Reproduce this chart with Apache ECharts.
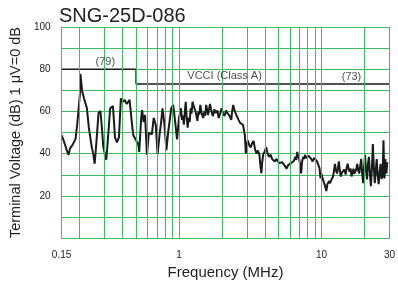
<!DOCTYPE html>
<html>
<head>
<meta charset="utf-8">
<script src="https://cdn.jsdelivr.net/npm/echarts@6/dist/echarts.min.js"></script>
<style>
  html, body { margin: 0; padding: 0; background: #fff; }
  #chart { width: 398px; height: 285px; }
</style>
</head>
<body>
<div id="chart"></div>
<script>
// measured trace (MHz / dB)
var freqs = [
    0.150, 0.154, 0.159, 0.163, 0.1677, 0.172, 0.1786, 0.184, 0.188, 0.193,
    0.198, 0.2023, 0.2032, 0.206, 0.2088, 0.2155, 0.2259, 0.233, 0.2443, 0.250,
    0.256, 0.263, 0.2725, 0.281, 0.288, 0.2945, 0.309, 0.318, 0.329, 0.344,
    0.3557, 0.367, 0.379, 0.391, 0.403, 0.416, 0.4295, 0.45, 0.4645, 0.4715,
    0.479, 0.494, 0.518, 0.526, 0.543, 0.551, 0.565, 0.578, 0.596, 0.615,
    0.645, 0.665, 0.687, 0.708, 0.731, 0.75, 0.766, 0.791, 0.816, 0.842,
    0.862, 0.882, 0.910, 0.939, 0.969, 0.985,
    1.0, 1.016, 1.032, 1.05, 1.066, 1.082, 1.10, 1.116, 1.13, 1.151,
    1.17, 1.19, 1.207, 1.225, 1.245, 1.275, 1.305, 1.325, 1.346, 1.37,
    1.39, 1.411, 1.445, 1.479, 1.51, 1.53, 1.551, 1.575, 1.600, 1.625,
    1.651, 1.69, 1.730, 1.77, 1.814, 1.86, 1.901, 1.945, 1.991, 2.04,
    2.088, 2.14, 2.188, 2.26, 2.329, 2.36, 2.404, 2.44, 2.481, 2.52,
    2.560, 2.62, 2.684, 2.75, 2.812, 2.86, 2.902, 2.946, 2.99,
    3.040, 3.11, 3.187, 3.26, 3.340, 3.42, 3.50, 3.58, 3.67, 3.72,
    3.785, 3.84, 3.905, 4.0, 4.094, 4.19, 4.29, 4.40, 4.50, 4.60,
    4.71, 4.82, 4.94, 5.06, 5.18, 5.30, 5.43, 5.56, 5.69, 5.83,
    5.965, 6.1, 6.25, 6.40, 6.55, 6.65, 6.76, 6.87, 6.975, 7.08,
    7.20, 7.31, 7.43, 7.55, 7.66, 7.78, 7.91, 8.1, 8.28, 8.48,
    8.68, 8.9, 9.10, 9.3, 9.54, 9.7, 9.85, 10.0,
    10.16, 10.32, 10.57, 10.82, 11.0, 11.16, 11.33, 11.51, 11.8, 12.07,
    12.25, 12.45, 12.65, 12.85, 13.05, 13.25, 13.45, 13.68, 13.9, 14.12,
    14.45, 14.79, 15.0, 15.27, 15.5, 15.75, 16.0, 16.25, 16.5, 16.77,
    17.0, 17.30, 17.6, 17.86, 18.1, 18.42, 18.7, 19.01, 19.3, 19.61,
    19.9, 20.23, 20.55, 20.88, 21.2, 21.54, 21.9, 22.23, 22.6, 22.94,
    23.3, 23.67, 24.0, 24.42, 24.8, 25.19, 25.6, 26.0, 26.4, 26.83,
    27.05, 27.25, 27.45, 27.68, 27.9, 28.1, 28.3, 28.56, 28.8, 29.0
];
var levels = [
    48.6, 46.8, 44.0, 41.7, 39.4, 42.5, 44.0, 43.1, 47.0, 53.7,
    62.0, 69.4, 77.8, 74.0, 69.9, 66.2, 61.5, 52.3, 43.1, 40.0,
    35.2, 45.0, 59.2, 60.2, 52.0, 43.1, 37.1, 48.0, 61.5, 62.5,
    47.7, 45.4, 47.7, 66.2, 64.5, 65.5, 63.5, 65.5, 65.0, 52.0,
    48.6, 47.7, 44.5, 40.8, 56.9, 60.6, 55.0, 58.3, 39.4, 50.0,
    49.1, 56.9, 53.7, 39.8, 49.1, 55.0, 61.5, 53.7, 41.7, 50.9,
    56.0, 61.5, 63.1, 55.5, 46.8, 52.0,
    56.9, 59.0, 61.5, 56.0, 58.0, 53.7, 60.0, 64.6, 58.0, 52.3,
    57.0, 55.0, 61.5, 59.0, 64.6, 62.0, 60.2, 58.0, 55.5, 60.0,
    58.5, 63.1, 59.0, 56.9, 60.0, 58.0, 63.1, 61.0, 58.3, 61.0,
    63.6, 60.0, 57.8, 61.0, 59.2, 60.5, 56.9, 59.0, 61.5, 59.0,
    57.8, 60.5, 59.2, 58.0, 56.0, 60.0, 63.1, 61.0, 60.2, 58.5,
    57.8, 56.0, 54.6, 55.5, 53.7, 51.0, 48.6, 40.0, 44.0,
    46.3, 44.0, 43.0, 45.0, 46.0, 42.0, 40.0, 41.5, 39.4, 35.0,
    30.7, 36.0, 39.8, 41.0, 43.1, 40.0, 38.5, 39.5, 37.5, 38.0,
    36.3, 37.5, 37.0, 35.5, 34.8, 36.0, 35.2, 34.0, 32.9, 34.5,
    33.8, 35.5, 34.8, 36.5, 38.5, 37.0, 40.8, 38.5, 37.5, 35.0,
    30.6, 36.0, 38.5, 37.5, 39.4, 38.0, 37.1, 39.0, 38.5, 37.5,
    36.3, 38.0, 37.5, 36.5, 37.1, 33.0, 28.3, 30.6,
    28.5, 27.8, 25.0, 22.3, 25.5, 24.6, 27.0, 26.0, 28.0, 29.2,
    32.0, 35.2, 32.0, 30.6, 33.0, 36.3, 32.0, 29.2, 31.0, 31.5,
    32.5, 30.1, 33.0, 35.2, 33.0, 31.5, 33.0, 29.2, 31.0, 32.9,
    30.5, 31.5, 33.0, 35.2, 32.0, 30.6, 34.0, 37.5, 31.0, 26.0,
    33.0, 39.4, 32.0, 27.8, 35.0, 38.5, 30.0, 24.6, 33.0, 44.5,
    34.0, 26.0, 31.0, 37.5, 30.0, 25.5, 31.0, 35.2, 28.0, 29.2,
    38.0, 46.3, 36.0, 28.3, 33.0, 37.5, 32.0, 30.6, 34.0, 36.0
];

// VCCI class A limit
var limitFreqs = [0.15, 0.5, 0.5, 30];
var limitLevels = [80, 80, 73, 73];

// log grid
var gridFreqs = [0.15, 0.2, 0.3, 0.4, 0.5, 0.6, 0.7, 0.8, 0.9,
    1, 2, 3, 4, 5, 6, 7, 8, 9, 10, 20, 30];
var xTickLabels = ['0.15', '1', '10', '30'];

var notes = ['(79)', 'VCCI (Class A)', '(73)'];
var noteFreqs = [0.304, 2.09, 16.25];
var noteLevels = [83.2, 76.9, 76.3];

var GREEN = '#3dbb5f';
var FONT = 'Liberation Sans, Arial, sans-serif';

var chart = echarts.init(document.getElementById('chart'));

var trace = freqs.map(function (f, i) { return [f, levels[i]]; });
var limit = limitFreqs.map(function (f, i) { return [f, limitLevels[i]]; });
var noteData = notes.map(function (t, i) {
    return { value: [noteFreqs[i], noteLevels[i]], name: t };
});

chart.setOption({
    animation: false,
    title: {
        text: 'SNG-25D-086',
        left: 54,
        top: 1,
        textStyle: { fontFamily: FONT, fontSize: 20, fontWeight: 'normal', color: '#222' }
    },
    grid: { left: 56, right: 5, top: 27, bottom: 42 },
    xAxis: {
        type: 'log',
        logBase: 10,
        min: 0.15,
        max: 30,
        name: 'Frequency (MHz)',
        nameLocation: 'middle',
        nameGap: 23,
        nameTextStyle: { fontFamily: FONT, fontSize: 15, color: '#222' },
        axisLine: { lineStyle: { color: GREEN } },
        axisTick: { show: false },
        splitLine: { show: false },
        axisLabel: {
            fontFamily: FONT, fontSize: 10, color: '#222', margin: 12,
            showMinLabel: true, showMaxLabel: true,
            formatter: function (v) {
                var s = String(+(+v).toPrecision(3));
                return xTickLabels.indexOf(s) >= 0 ? s : '';
            }
        }
    },
    yAxis: {
        type: 'value',
        min: 0,
        max: 100,
        interval: 10,
        name: 'Terminal Voltage (dB) 1 \u03bcV=0 dB',
        nameLocation: 'middle',
        nameGap: 36,
        nameTextStyle: { fontFamily: FONT, fontSize: 14.5, color: '#222' },
        axisLine: { show: true, lineStyle: { color: GREEN } },
        axisTick: { show: false },
        splitLine: { lineStyle: { color: GREEN, width: 1 } },
        axisLabel: {
            fontFamily: FONT, fontSize: 10, color: '#222', margin: 11,
            formatter: function (v) { return (v % 20 === 0 && v > 0) ? String(v) : ''; }
        }
    },
    series: [
        {
            type: 'line',
            data: [],
            silent: true,
            z: 1,
            markLine: {
                silent: true,
                symbol: 'none',
                label: { show: false },
                lineStyle: { color: GREEN, type: 'solid', width: 1 },
                data: gridFreqs.map(function (f) { return { xAxis: f }; })
                    .concat([{ yAxis: 100 }])
            }
        },
        {
            type: 'line',
            data: limit,
            showSymbol: false,
            z: 3,
            lineStyle: { color: '#1a1a1a', width: 1.5 }
        },
        {
            type: 'line',
            data: trace,
            showSymbol: false,
            z: 4,
            lineStyle: { color: '#1a1a1a', width: 2 }
        },
        {
            type: 'scatter',
            data: noteData,
            symbolSize: 0,
            z: 5,
            label: {
                show: true,
                position: 'inside',
                formatter: '{b}',
                fontFamily: FONT,
                fontSize: 11,
                color: '#222'
            }
        }
    ]
});

window.addEventListener('resize', function () {
    chart.resize();
});
</script>
</body>
</html>
